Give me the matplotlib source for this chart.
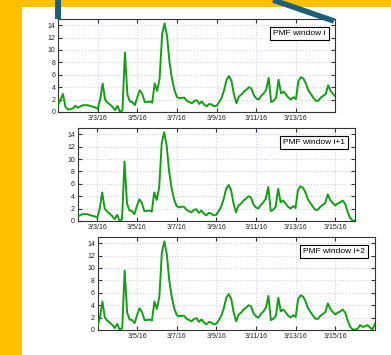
import numpy as np
import pandas as pd
import matplotlib
matplotlib.use("Agg")
import matplotlib.pyplot as plt
from matplotlib.patches import Rectangle
from matplotlib.lines import Line2D

# 3-hourly series, 3/1/16 .. 3/17/16
times = pd.date_range("2016-03-01", "2016-03-17", freq="3h")
values = [
    1.1, 2.0, 2.9, 0.8, 0.4, 0.45, 0.6, 1.0, 0.7, 0.9, 1.1, 1.1, 1.1, 0.95, 0.85, 0.75,
    0.5, 2.0, 4.6, 2.0, 1.5, 1.2, 0.8, 0.3, 1.0, 0.0, 0.3, 9.6, 2.8, 1.7, 1.6, 1.1,
    2.4, 3.5, 2.9, 1.6, 1.6, 1.7, 1.5, 4.6, 3.4, 5.4, 12.5, 14.3, 12.2, 8.0, 5.3, 3.5,
    2.4, 2.2, 2.3, 2.3, 1.8, 1.6, 1.4, 1.8, 1.9, 1.3, 1.7, 1.2, 0.9, 1.3, 1.2, 0.9,
    1.0, 1.6, 2.3, 3.5, 5.2, 5.8, 5.0, 2.8, 1.4, 2.5, 2.8, 3.3, 3.6, 4.0, 3.8, 2.7,
    2.2, 2.0, 2.6, 3.0, 3.6, 5.5, 1.6, 1.8, 2.3, 5.2, 3.0, 3.3, 2.8, 2.3, 2.0, 2.4,
    2.1, 5.0, 5.6, 5.4, 4.6, 3.5, 2.9, 2.3, 1.8, 1.8, 2.3, 2.6, 2.9, 4.3, 3.4, 2.9,
    2.5, 2.8, 3.0, 3.3, 2.8, 1.5, 0.5, 0.1, 0.05, 0.2, 0.8, 0.5, 0.6, 0.8, 0.4, 0.1, 1.0,
]
series = pd.Series(values, index=times)

window_labels = ["PMF window i", "PMF window i+1", "PMF window i+2"]
window_starts = ["2016-03-01", "2016-03-02", "2016-03-03"]
window_days = 14
yticks = [0, 2, 4, 6, 8, 10, 12, 14]

plt.rcParams["font.family"] = ["Liberation Sans", "DejaVu Sans"]

fig = plt.figure(figsize=(3.91, 3.55), dpi=100)
fig.patch.set_facecolor("#FFC000")
fig.add_artist(Rectangle((22 / 391, 0), 1, 1 - 7 / 355, transform=fig.transFigure,
                         facecolor="white", edgecolor="none", zorder=0))

W, H = 391, 355
panel_px = [(58.3, 19), (77.7, 128), (97.7, 237)]  # left, top in pixels
pw, ph = 277, 93

for (lx, ty), label, start in zip(panel_px, window_labels, window_starts):
    ax = fig.add_axes([lx / W, 1 - (ty + ph) / H, pw / W, ph / H])
    t0 = pd.Timestamp(start)
    t1 = t0 + pd.Timedelta(days=window_days)
    ax.plot(series.index, series.values, color="#12a012", lw=1.4, zorder=3)
    ax.set_xlim(t0 + pd.Timedelta(minutes=20), t1 - pd.Timedelta(minutes=20))
    ax.set_ylim(0, 15)
    ax.set_yticks(yticks)
    ticks = [d for d in pd.date_range("2016-03-01", "2016-03-17", freq="2D")
             if t0 < d < t1]
    ax.set_xticks(ticks)
    ax.set_xticklabels([f"{d.month}/{d.day}/{d:%y}" for d in ticks])
    ax.set_axisbelow(True)
    ax.grid(True, color="#cfcff7", linestyle=":", linewidth=0.8)
    ax.tick_params(direction="in", top=True, right=True, length=3, width=0.8,
                   color="#333333", labelsize=5, pad=2, labelcolor="#222222")
    for s in ax.spines.values():
        s.set_color("#333333")
        s.set_linewidth(0.8)
    ax.text(0.965, 0.885, label, transform=ax.transAxes, ha="right", va="top",
            fontsize=6, zorder=5,
            bbox=dict(boxstyle="square,pad=0.35", facecolor="white",
                      edgecolor="black", linewidth=0.8))

# callout lines toward the first panel
teal = "#1b5f7a"
fig.add_artist(Line2D([58 / W, 58 / W], [1.0, 1 - 19 / H], transform=fig.transFigure,
                      color=teal, lw=4.3, solid_capstyle="butt"))
fig.add_artist(Line2D([273 / W, 334 / W], [1.0, 1 - 21 / H], transform=fig.transFigure,
                      color=teal, lw=4.0, solid_capstyle="butt"))

fig.savefig("out.png", dpi=100, facecolor=fig.get_facecolor())
